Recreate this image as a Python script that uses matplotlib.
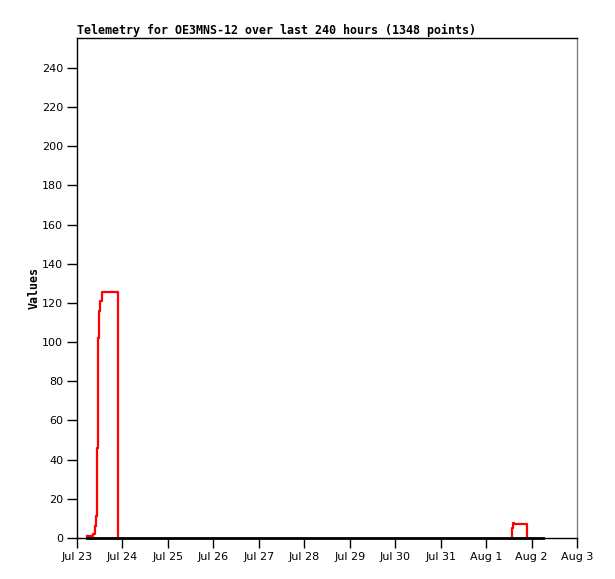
import datetime
import matplotlib
matplotlib.use('Agg')
import matplotlib.pyplot as plt
import matplotlib.dates as mdates

# day offsets from Jul 23 00:00
start = datetime.datetime(2023, 7, 23)

black_days = [0.227, 10.246]
black_vals = [0, 0]

red1_days = [0.227, 0.359, 0.389, 0.411, 0.433, 0.455, 0.484, 0.506, 0.557, 0.909]
red1_vals = [0.8, 2, 6, 11, 46, 102, 116, 121, 125.5, 0]

red2_days = [9.564, 9.564, 9.586, 9.622, 9.90]
red2_vals = [0, 5, 7.5, 7, 0]

tick_labels = ['Jul 23', 'Jul 24', 'Jul 25', 'Jul 26', 'Jul 27', 'Jul 28',
               'Jul 29', 'Jul 30', 'Jul 31', 'Aug 1', 'Aug 2', 'Aug 3']


def to_dates(days):
    return [start + datetime.timedelta(days=d) for d in days]


fig = plt.figure(figsize=(6.15, 5.79), dpi=100)
ax = fig.add_axes([77 / 615, 41 / 579, 500 / 615, 500 / 579])

ax.plot(to_dates(black_days), black_vals, color='black', lw=2, zorder=4, clip_on=False)
ax.plot(to_dates(red1_days), red1_vals, color='red', lw=1.6, drawstyle='steps-post', zorder=3)
ax.plot(to_dates(red2_days), red2_vals, color='red', lw=1.6, drawstyle='steps-post', zorder=3)

ticks = to_dates(range(len(tick_labels)))
ax.set_xticks(ticks)
ax.set_xticklabels(tick_labels)
ax.set_xlim(ticks[0], ticks[-1])
ax.set_ylim(0, 255.3)
ax.set_yticks(range(0, 241, 20))

ax.tick_params(direction='out', length=7, width=1, labelsize=8, pad=3)
for lab in ax.get_xticklabels() + ax.get_yticklabels():
    lab.set_family('DejaVu Sans')
for sp in ax.spines.values():
    sp.set_linewidth(1)
ax.spines['right'].set_color('#808080')

ax.set_ylabel('Values', family='DejaVu Sans Mono', weight='bold', fontsize=8.4, labelpad=1)
ax.set_title('Telemetry for OE3MNS-12 over last 240 hours (1348 points)',
             family='DejaVu Sans Mono', weight='bold', fontsize=8.4, loc='left', pad=3)

fig.savefig('out.png', dpi=100)
